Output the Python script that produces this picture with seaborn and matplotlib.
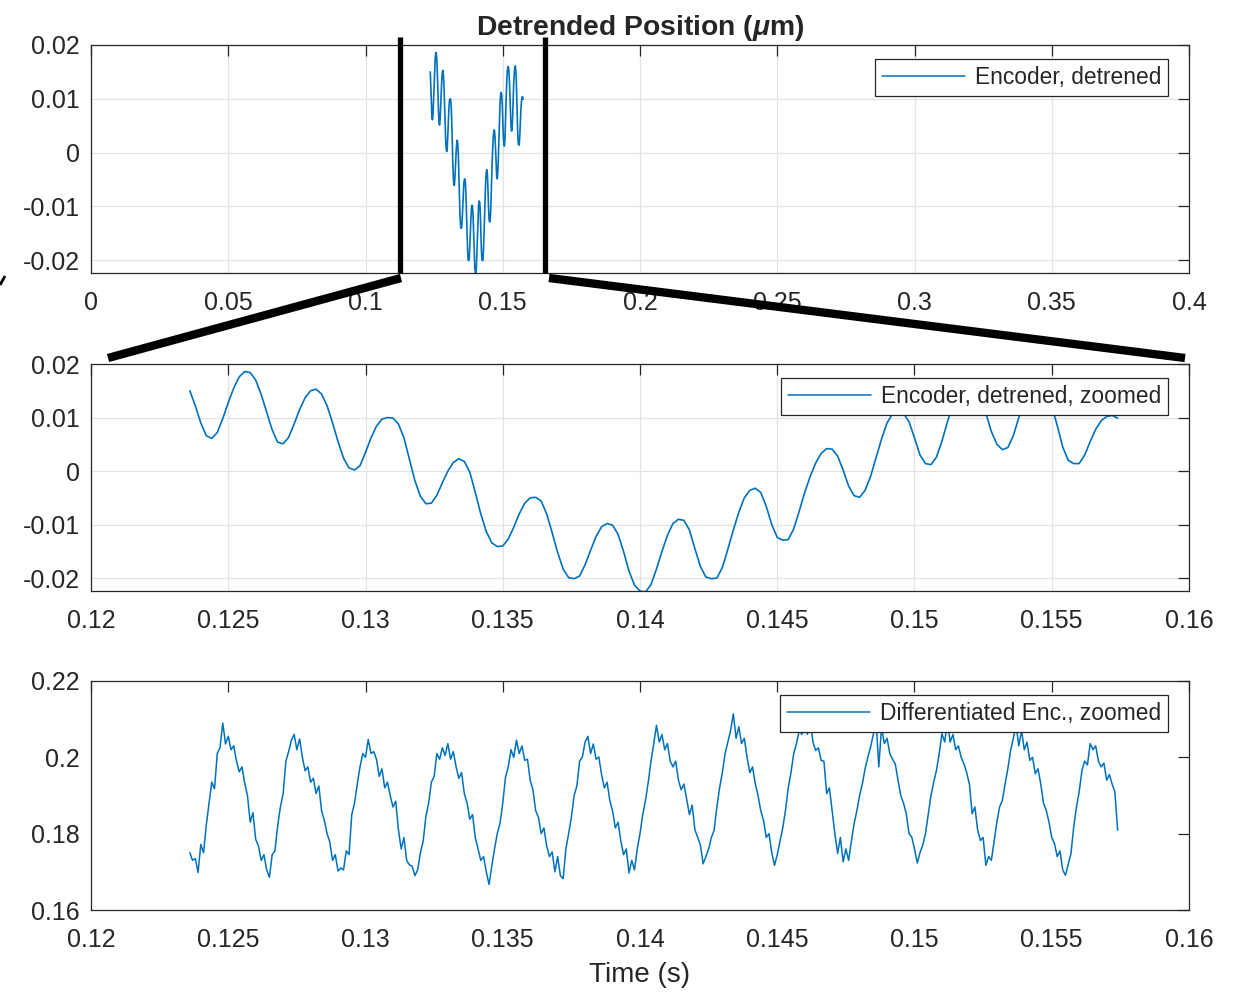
import numpy as np
import matplotlib
matplotlib.use('Agg')
import matplotlib.pyplot as plt
import seaborn as sns
from matplotlib.lines import Line2D

# Encoder position, detrended (um), sampled every 0.2 ms from 0.1236 s to 0.1574 s
t_start, t_end = 0.1236, 0.1574
pos = [
    0.0150, 0.0122, 0.0090, 0.0066, 0.0061, 0.0072, 0.0098, 0.0128, 0.0155, 0.0176,
    0.0186, 0.0184, 0.0170, 0.0143, 0.0110, 0.0077, 0.0054, 0.0051, 0.0063, 0.0088,
    0.0115, 0.0137, 0.0150, 0.0153, 0.0144, 0.0122, 0.0090, 0.0055, 0.0024, 0.0006,
    0.0002, 0.0010, 0.0035, 0.0062, 0.0084, 0.0097, 0.0100, 0.0099, 0.0088, 0.0062,
    0.0022, -0.0018, -0.0047, -0.0061, -0.0060, -0.0045, -0.0022, 0.0000, 0.0016, 0.0023,
    0.0018, -0.0002, -0.0040, -0.0080, -0.0113, -0.0134, -0.0141, -0.0140, -0.0127, -0.0105,
    -0.0080, -0.0060, -0.0050, -0.0049, -0.0056, -0.0080, -0.0115, -0.0152, -0.0183, -0.0199,
    -0.0201, -0.0196, -0.0175, -0.0148, -0.0122, -0.0104, -0.0098, -0.0101, -0.0118, -0.0150,
    -0.0187, -0.0213, -0.0224, -0.0226, -0.0212, -0.0183, -0.0150, -0.0120, -0.0098, -0.0090,
    -0.0092, -0.0110, -0.0145, -0.0178, -0.0198, -0.0201, -0.0200, -0.0180, -0.0146, -0.0110,
    -0.0077, -0.0050, -0.0036, -0.0032, -0.0040, -0.0066, -0.0100, -0.0124, -0.0129, -0.0128,
    -0.0108, -0.0075, -0.0040, -0.0010, 0.0015, 0.0033, 0.0042, 0.0041, 0.0028, 0.0002,
    -0.0028, -0.0046, -0.0049, -0.0036, -0.0010, 0.0025, 0.0060, 0.0090, 0.0107, 0.0112,
    0.0108, 0.0092, 0.0062, 0.0030, 0.0014, 0.0012, 0.0026, 0.0056, 0.0092, 0.0125,
    0.0148, 0.0157, 0.0160, 0.0155, 0.0137, 0.0108, 0.0074, 0.0050, 0.0040, 0.0044,
    0.0066, 0.0100, 0.0130, 0.0148, 0.0159, 0.0161, 0.0150, 0.0122, 0.0085, 0.0045,
    0.0020, 0.0014, 0.0014, 0.0030, 0.0055, 0.0078, 0.0094, 0.0102, 0.0104, 0.0099,
]

# Differentiated encoder signal, sampled every 0.1 ms over the same window
vel = [
    0.1750, 0.1730, 0.1735, 0.1698, 0.1772, 0.1750, 0.1822, 0.1880, 0.1935, 0.1918,
    0.2010, 0.2025, 0.2090, 0.2035, 0.2055, 0.2020, 0.2030, 0.1990, 0.1962, 0.1975,
    0.1932, 0.1900, 0.1830, 0.1855, 0.1785, 0.1768, 0.1730, 0.1745, 0.1705, 0.1686,
    0.1745, 0.1755, 0.1820, 0.1870, 0.1905, 0.1990, 0.2015, 0.2045, 0.2060, 0.2020,
    0.2048, 0.2000, 0.1965, 0.1975, 0.1935, 0.1945, 0.1905, 0.1925, 0.1860, 0.1835,
    0.1800, 0.1778, 0.1730, 0.1745, 0.1702, 0.1710, 0.1705, 0.1755, 0.1745, 0.1850,
    0.1880, 0.1930, 0.1975, 0.2010, 0.2000, 0.2047, 0.2010, 0.2015, 0.1995, 0.1950,
    0.1970, 0.1920, 0.1935, 0.1900, 0.1870, 0.1885, 0.1810, 0.1760, 0.1790, 0.1730,
    0.1718, 0.1715, 0.1690, 0.1705, 0.1750, 0.1780, 0.1845, 0.1880, 0.1935, 0.1950,
    0.2010, 0.1995, 0.2025, 0.2005, 0.2036, 0.1995, 0.2015, 0.1975, 0.1945, 0.1960,
    0.1905, 0.1880, 0.1838, 0.1850, 0.1790, 0.1760, 0.1730, 0.1740, 0.1700, 0.1667,
    0.1715, 0.1760, 0.1800, 0.1827, 0.1880, 0.1948, 0.1975, 0.2020, 0.2000, 0.2045,
    0.2010, 0.2030, 0.1992, 0.1995, 0.1940, 0.1915, 0.1860, 0.1843, 0.1800, 0.1815,
    0.1768, 0.1740, 0.1752, 0.1700, 0.1740, 0.1690, 0.1682, 0.1760, 0.1800, 0.1843,
    0.1900, 0.1925, 0.1990, 0.2001, 0.2040, 0.2055, 0.2010, 0.2035, 0.1995, 0.2001,
    0.1955, 0.1920, 0.1935, 0.1887, 0.1860, 0.1815, 0.1830, 0.1782, 0.1745, 0.1760,
    0.1697, 0.1730, 0.1705, 0.1760, 0.1800, 0.1850, 0.1887, 0.1935, 0.1990, 0.2035,
    0.2084, 0.2040, 0.2060, 0.2020, 0.2036, 0.1990, 0.1975, 0.1990, 0.1940, 0.1915,
    0.1930, 0.1890, 0.1850, 0.1875, 0.1810, 0.1791, 0.1770, 0.1721, 0.1740, 0.1760,
    0.1790, 0.1809, 0.1870, 0.1920, 0.1960, 0.2010, 0.2040, 0.2070, 0.2114, 0.2050,
    0.2080, 0.2036, 0.2050, 0.2000, 0.1960, 0.1975, 0.1931, 0.1900, 0.1860, 0.1835,
    0.1790, 0.1800, 0.1750, 0.1717, 0.1745, 0.1780, 0.1815, 0.1861, 0.1920, 0.1960,
    0.2010, 0.2036, 0.2070, 0.2060, 0.2095, 0.2060, 0.2100, 0.2040, 0.2018, 0.2025,
    0.1992, 0.1990, 0.1905, 0.1920, 0.1861, 0.1800, 0.1748, 0.1790, 0.1726, 0.1760,
    0.1730, 0.1780, 0.1826, 0.1860, 0.1900, 0.1931, 0.1970, 0.2000, 0.2027, 0.2060,
    0.2095, 0.1975, 0.2080, 0.2036, 0.2050, 0.2010, 0.1995, 0.1983, 0.1940, 0.1900,
    0.1880, 0.1852, 0.1800, 0.1791, 0.1760, 0.1723, 0.1750, 0.1770, 0.1800, 0.1850,
    0.1900, 0.1935, 0.1966, 0.2010, 0.2062, 0.2040, 0.2095, 0.2040, 0.2060, 0.2020,
    0.2030, 0.2000, 0.1983, 0.1960, 0.1930, 0.1852, 0.1870, 0.1810, 0.1782, 0.1790,
    0.1717, 0.1740, 0.1730, 0.1780, 0.1830, 0.1870, 0.1887, 0.1930, 0.1970, 0.2018,
    0.2050, 0.2085, 0.2030, 0.2070, 0.2020, 0.2040, 0.1992, 0.2000, 0.1957, 0.1970,
    0.1930, 0.1880, 0.1861, 0.1830, 0.1790, 0.1774, 0.1740, 0.1755, 0.1705, 0.1691,
    0.1720, 0.1748, 0.1817, 0.1870, 0.1910, 0.1966, 0.1990, 0.1980, 0.2036, 0.2020,
    0.2030, 0.1990, 0.1975, 0.1985, 0.1940, 0.1955, 0.1930, 0.1909, 0.1809,
]

t_pos = np.linspace(t_start, t_end, len(pos))
t_vel = np.linspace(t_start, t_end, len(vel))

top_xticks = [0, 0.05, 0.1, 0.15, 0.2, 0.25, 0.3, 0.35, 0.4]
top_xlabels = ['0', '0.05', '0.1', '0.15', '0.2', '0.25', '0.3', '0.35', '0.4']
zoom_xticks = [0.12, 0.125, 0.13, 0.135, 0.14, 0.145, 0.15, 0.155, 0.16]
zoom_xlabels = ['0.12', '0.125', '0.13', '0.135', '0.14', '0.145', '0.15', '0.155', '0.16']
pos_yticks = [-0.02, -0.01, 0, 0.01, 0.02]
pos_ylabels = ['-0.02', '-0.01', '0', '0.01', '0.02']
vel_yticks = [0.16, 0.18, 0.2, 0.22]
vel_ylabels = ['0.16', '0.18', '0.2', '0.22']

sns.set_style('white')
plt.rcParams['font.family'] = ['Liberation Sans', 'DejaVu Sans']
plt.rcParams['mathtext.fontset'] = 'custom'
plt.rcParams['mathtext.it'] = 'Liberation Sans:italic:bold'

blue = '#0072BD'
dark = '#262626'

W, H = 1244, 992
fig = plt.figure(figsize=(W / 100, H / 100), dpi=100)


def px_axes(left, top, right, bottom):
    return fig.add_axes([left / W, 1 - bottom / H, (right - left) / W, (bottom - top) / H])


ax1 = px_axes(91, 45, 1189, 273)
ax2 = px_axes(91, 364, 1189, 591)
ax3 = px_axes(91, 681, 1189, 910)


def style(ax, xticks, xlabels, yticks, ylabels, grid=True):
    ax.set_xticks(xticks)
    ax.set_xticklabels(xlabels)
    ax.set_yticks(yticks)
    ax.set_yticklabels(ylabels)
    ax.tick_params(direction='in', length=8, width=0.9, color=dark, labelcolor=dark,
                   labelsize=18, top=True, right=True)
    ax.tick_params(axis='x', pad=13)
    ax.tick_params(axis='y', pad=8)
    for s in ax.spines.values():
        s.set_color(dark)
        s.set_linewidth(0.9)
        s.set_visible(True)
    if grid:
        ax.grid(True, color='#e3e3e3', lw=0.9)
    ax.set_axisbelow(True)


def legend(ax, label):
    leg = ax.legend([Line2D([], [], color=blue, lw=1.1)], [label], loc='upper right',
                    bbox_to_anchor=(0.981, 0.939), borderaxespad=0, fontsize=16.4,
                    handlelength=3.65, handletextpad=0.45, borderpad=0.3, fancybox=False,
                    framealpha=1, edgecolor=dark)
    leg.get_frame().set_linewidth(0.9)


sns.lineplot(x=t_pos, y=pos, ax=ax1, color=blue, lw=1.2, estimator=None, sort=False)
ax1.set_xlim(0, 0.4)
ax1.set_ylim(-0.0224, 0.02)
style(ax1, top_xticks, top_xlabels, pos_yticks, pos_ylabels)
legend(ax1, 'Encoder, detrened')
ax1.set_title(r'Detrended Position ($\mu$m)', fontsize=20.3, fontweight='bold', pad=7)

sns.lineplot(x=t_pos, y=pos, ax=ax2, color=blue, lw=1.2, estimator=None, sort=False)
ax2.set_xlim(0.12, 0.16)
ax2.set_ylim(-0.0224, 0.02)
style(ax2, zoom_xticks, zoom_xlabels, pos_yticks, pos_ylabels)
legend(ax2, 'Encoder, detrened, zoomed')

sns.lineplot(x=t_vel, y=vel, ax=ax3, color=blue, lw=1.1, estimator=None, sort=False)
ax3.set_xlim(0.12, 0.16)
ax3.set_ylim(0.16, 0.22)
style(ax3, zoom_xticks, zoom_xlabels, vel_yticks, vel_ylabels, grid=False)
legend(ax3, 'Differentiated Enc., zoomed')
ax3.set_xlabel('Time (s)', fontsize=20, color=dark, labelpad=7)
for ax in (ax1, ax2, ax3):
    ax.set_ylabel('')


# hand-drawn zoom indicator lines (figure pixel coordinates)
def fig_line(x0, y0, x1, y1, lw):
    fig.add_artist(Line2D([x0 / W, x1 / W], [1 - y0 / H, 1 - y1 / H], color='black',
                          lw=lw, solid_capstyle='butt', transform=fig.transFigure))


fig_line(400, 37, 400, 273, 3.8)
fig_line(545, 37, 545, 273, 3.8)
fig_line(401, 278, 108, 358, 6)
fig_line(549, 278, 1185, 358, 6)
fig_line(0, 285, 5, 276, 2)

fig.savefig('out.png', dpi=100)
